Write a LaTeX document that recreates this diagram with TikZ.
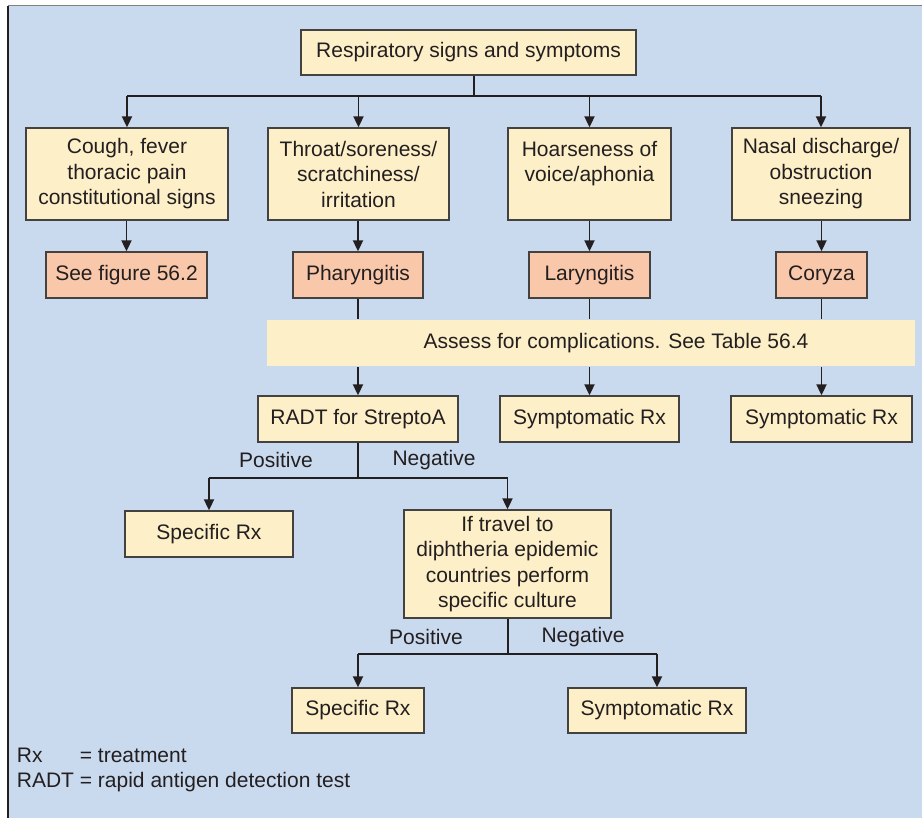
\documentclass[tikz,border=0pt]{standalone}
\usepackage{fontspec}
\setmainfont{Liberation Sans}
\usetikzlibrary{arrows.meta, positioning, calc}
\definecolor{bgblue}{HTML}{C9D9EE}
\definecolor{boxyel}{HTML}{FDEFC8}
\definecolor{boxred}{HTML}{F9C8AA}
\definecolor{ink}{HTML}{231F20}

\begin{document}
\begin{tikzpicture}[x=1pt, y=-1pt, >={Triangle[length=11pt, width=10pt]},
      line width=1.8pt,
      every node/.style={font=\fontsize{21}{25.5}\selectfont, text=ink},
      box/.style={draw=ink!85, line width=1.3pt, fill=boxyel,
        align=center, inner sep=0pt},
      dxbox/.style={box, fill=boxred}]
    \useasboundingbox (0,0) rectangle (922,818);
    \fill[bgblue] (8,6) rectangle (922,818);
    \draw[gray, line width=1pt] (8,6) -- (922,6);
    \draw[ink, line width=1.2pt] (8,6) -- (8,818);

    \node[box, minimum width=335, minimum height=45]
      (top) at (468.5,52.5) {Respiratory signs and symptoms};

    % signs
    \node[box, minimum width=202, minimum height=92]
      (cough) at (127,174) {Cough, fever\\thoracic pain\\constitutional signs};
    \node[box, minimum width=181, minimum height=92]
      (throat) at (358.5,174) {Throat/soreness/\\scratchiness/\\irritation};
    \node[box, minimum width=163, minimum height=92]
      (hoarse) at (589.5,174) {Hoarseness of\\voice/aphonia\\\mbox{}};
    \node[box, minimum width=178, minimum height=92]
      (nasal) at (821,174) {Nasal discharge/\\obstruction\\sneezing};

    % diagnoses
    \foreach \n/\x/\w/\t in {fig/126.5/161/See figure 56.2,
        pharyn/358/130/Pharyngitis, laryn/589.5/121/Laryngitis,
        coryza/821.5/91/Coryza}{
      \node[dxbox, minimum width=\w, minimum height=46]
        (\n) at (\x,275) {\t};
    }

    \node[fill=boxyel, inner sep=0pt, minimum width=648, minimum height=46]
      (assess) at (591,343)
      {\hspace*{50pt}Assess for complications. See Table 56.4};

    \node[box, minimum width=200, minimum height=46]
      (radt) at (358,419) {RADT for StreptoA};
    \node[box, minimum width=179, minimum height=46]
      (symA) at (589.5,419) {Symptomatic Rx};
    \node[box, minimum width=181, minimum height=46]
      (symB) at (821.5,419) {Symptomatic Rx};

    \node[box, minimum width=168, minimum height=46]
      (specA) at (209,534) {Specific Rx};
    \node[box, minimum width=207, minimum height=108]
      (travel) at (507.5,564)
      {If travel to\\diphtheria epidemic\\countries perform\\specific culture};

    \node[box, minimum width=132, minimum height=45]
      (specB) at (358,710.5) {Specific Rx};
    \node[box, minimum width=178, minimum height=45]
      (symC) at (657,710.5) {Symptomatic Rx};

    % connectors
    \coordinate (split) at (474,96);
    \draw[ink] (top.south -| split) -- (split);
    \draw[ink] (cough.north |- split) -- (nasal.north |- split);
    \foreach \n in {cough,throat,hoarse,nasal}
      \draw[ink, ->] (\n.north |- split) -- (\n.north);
    \foreach \a/\b in {cough/fig, throat/pharyn, hoarse/laryn, nasal/coryza}
      \draw[ink, ->] (\b.north |- \a.south) -- (\b.north);
    \foreach \b/\c in {pharyn/radt, laryn/symA, coryza/symB}{
      \draw[ink] (\b.south) -- (\b.south |- assess.north);
      \draw[ink, ->] (\c.north |- assess.south) -- (\c.north);
    }

    \coordinate (rsplit) at (358,478);
    \draw[ink] (radt.south) -- (rsplit);
    \draw[ink] (specA.north |- rsplit) -- (travel.north |- rsplit);
    \foreach \n in {specA,travel}
      \draw[ink, ->] (\n.north |- rsplit) -- (\n.north);
    \node (posA) at (276,460) {Positive};
    \node (negA) at (434,460) {Negative};

    \coordinate (tsplit) at (508,654);
    \draw[ink] (travel.south -| tsplit) -- (tsplit);
    \draw[ink] (specB.north |- tsplit) -- (symC.north |- tsplit);
    \foreach \n in {specB,symC}
      \draw[ink, ->] (\n.north |- tsplit) -- (\n.north);
    \node (posB) at (426,637) {Positive};
    \node (negB) at (583,637) {Negative};

    % legend
    \node[anchor=west, inner sep=0pt] (legend) at (16,770)
      {\begin{tabular}{@{}l@{ }l@{}}Rx & = treatment\\
       RADT & = rapid antigen detection test\end{tabular}};
  \end{tikzpicture}
\end{document}
